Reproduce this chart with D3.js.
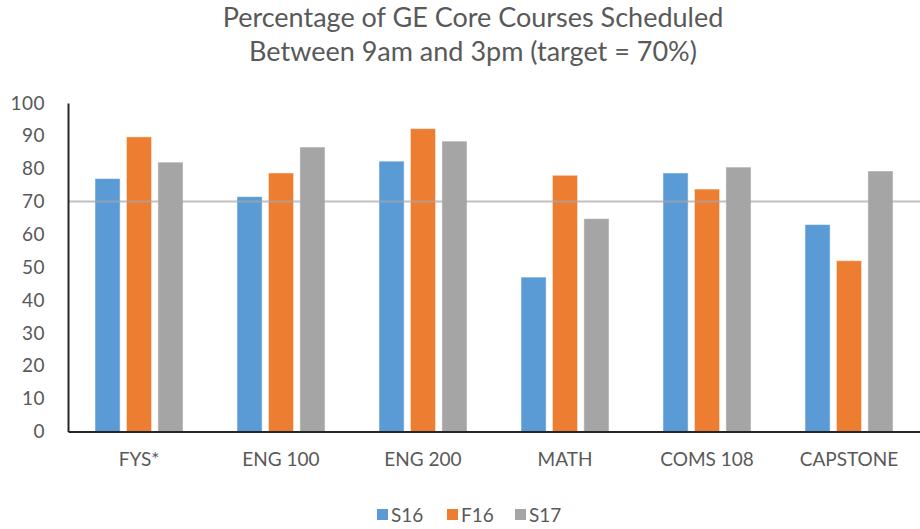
<!DOCTYPE html>
<html><head><meta charset="utf-8">
<script src="https://cdn.jsdelivr.net/npm/d3@7"></script>
<style>body{margin:0;background:#fff}svg{display:block}text{font-family:Lato,"Open Sans",sans-serif}</style>
</head><body><svg id="c" width="920" height="529"></svg>
<script>
const categories = ["FYS*","ENG 100","ENG 200","MATH","COMS 108","CAPSTONE"];
const seriesNames = ["S16","F16","S17"];
const S16 = [77, 71.5, 82.3, 47, 78.7, 63];
const F16 = [89.7, 78.7, 92.2, 78, 73.8, 52];
const S17 = [82, 86.6, 88.4, 64.8, 80.5, 79.3];
const target = 70;
const yTicks = [0,10,20,30,40,50,60,70,80,90,100];
const colors = ["#5B9BD5","#ED7D31","#A5A5A5"];
const titleLines = ["Percentage of GE Core Courses Scheduled","Between 9am and 3pm (target = 70%)"];

const values = [S16, F16, S17];
const svg = d3.select("#c");
const L = 68, R = 920, T = 103, B = 431.5;
const x0 = d3.scaleBand().domain(categories).range([L, R]).paddingInner(0.38).paddingOuter(0.19);
const x1 = d3.scaleBand().domain(seriesNames).range([0, x0.bandwidth()]).paddingInner(0.2);
const y = d3.scaleLinear().domain([0,100]).range([B, T]);

// title
svg.append("g").selectAll("text").data(titleLines).join("text")
  .attr("x", 473).attr("y", (d,i)=>27 + i*34).attr("text-anchor","middle")
  .attr("font-size", 27).attr("fill","#595959").text(d=>d);

// bars
const g = svg.append("g");
categories.forEach((c, ci) => {
  seriesNames.forEach((s, si) => {
    g.append("rect")
      .attr("x", x0(c) + x1(s)).attr("width", x1.bandwidth())
      .attr("y", y(values[si][ci])).attr("height", y(0) - y(values[si][ci]))
      .attr("fill", colors[si]).attr("stroke", "#ffffff").attr("stroke-opacity",0.5).attr("stroke-width",1);
  });
});

// target line
svg.append("line").attr("x1", L).attr("x2", R).attr("y1", y(target)).attr("y2", y(target))
  .attr("stroke", "#A6A6A6").attr("stroke-opacity",0.7).attr("stroke-width", 2);

// y axis
const ya = svg.append("g").attr("transform", `translate(${L},0)`)
  .call(d3.axisLeft(y).tickValues(yTicks).tickSize(0).tickPadding(23));
ya.select(".domain").attr("stroke","#262626").attr("stroke-width",2);
ya.selectAll("text").attr("font-size",19).attr("fill","#595959").attr("font-family","Lato").attr("letter-spacing","0.5px");

// x axis
const xa = svg.append("g").attr("transform", `translate(0,${B})`)
  .call(d3.axisBottom(x0).tickSize(0).tickPadding(21));
xa.select(".domain").attr("stroke","#262626").attr("stroke-width",2);
xa.selectAll("text").attr("font-size",19).attr("fill","#595959").attr("font-family","Lato");

// legend
const lg = svg.append("g");
const lx = [377, 447, 515];
seriesNames.forEach((s, i) => {
  lg.append("rect").attr("x", lx[i]).attr("y", 509).attr("width", 11).attr("height", 11).attr("fill", colors[i]);
  lg.append("text").attr("x", lx[i] + 14).attr("y", 522).attr("font-size", 19).attr("fill","#595959").text(s);
});
</script></body></html>
